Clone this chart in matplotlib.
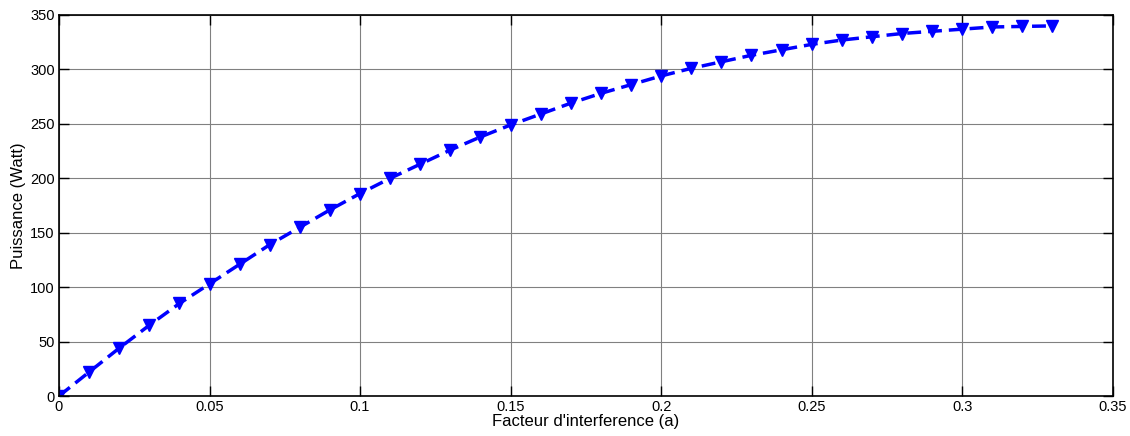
import matplotlib
matplotlib.use("Agg")
import matplotlib.pyplot as plt

a_values = [0.00, 0.01, 0.02, 0.03, 0.04, 0.05, 0.06, 0.07, 0.08, 0.09,
            0.10, 0.11, 0.12, 0.13, 0.14, 0.15, 0.16, 0.17, 0.18, 0.19,
            0.20, 0.21, 0.22, 0.23, 0.24, 0.25, 0.26, 0.27, 0.28, 0.29,
            0.30, 0.31, 0.32, 0.33]
puissance = [0, 22, 44, 65, 85, 103, 121, 139, 155, 171,
             186, 200, 213, 226, 238, 249, 259, 269, 278, 286,
             294, 301, 307, 313, 318, 323, 327, 330, 333, 335,
             337, 339, 339.5, 340]
xticks = [0, 0.05, 0.1, 0.15, 0.2, 0.25, 0.3, 0.35]
xticklabels = ["0", "0.05", "0.1", "0.15", "0.2", "0.25", "0.3", "0.35"]
yticks = [0, 50, 100, 150, 200, 250, 300, 350]

plt.rcParams['font.family'] = ['Liberation Sans', 'DejaVu Sans']

fig = plt.figure(figsize=(11.3, 4.36), dpi=100)
ax = fig.add_axes([0.0522, 0.0917, 0.9325, 0.8739])
ax.plot(a_values, puissance, color='#0000ff', linestyle='--', linewidth=2.5,
        marker='v', markersize=8, dashes=(4, 2))
ax.set_xlim(0, 0.35)
ax.set_ylim(0, 350)
ax.set_xticks(xticks)
ax.set_xticklabels(xticklabels)
ax.set_yticks(yticks)
ax.grid(True, color='#808080', linewidth=0.8, linestyle='-')
ax.tick_params(direction='in', labelsize=10.5, length=7, width=1, top=True, right=True, pad=3)
for s in ax.spines.values():
    s.set_linewidth(1.2)
ax.set_xlabel("Facteur d'interference (a)", fontsize=12, labelpad=0)
ax.set_ylabel("Puissance (Watt)", fontsize=12, labelpad=3)
fig.savefig("out.png", dpi=100)
